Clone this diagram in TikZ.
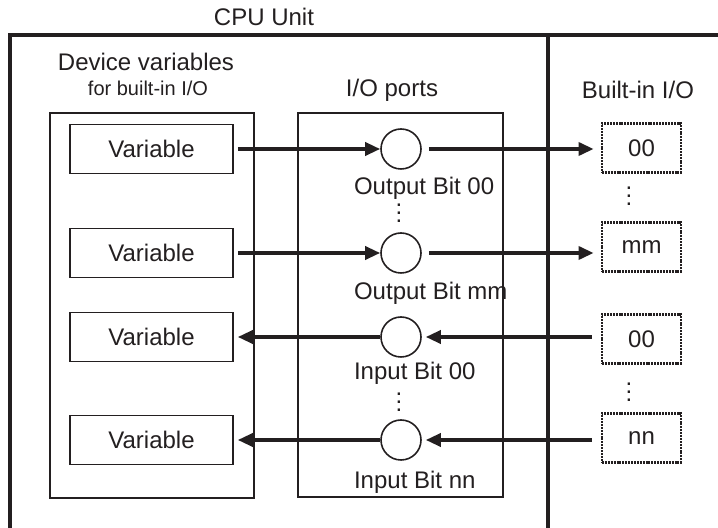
\documentclass[tikz,border=0pt]{standalone}
\usepackage{fontspec}
\setmainfont{Liberation Sans}
\usetikzlibrary{arrows.meta}
\definecolor{ink}{HTML}{231F20}
\begin{document}
\begin{tikzpicture}[x=0.5pt,y=-0.5pt,color=ink,
  every node/.style={font=\fontsize{12}{14}\selectfont},
  var/.style={draw,line width=0.8pt,minimum width=81.5pt,minimum height=24.5pt,inner sep=0pt},
  port/.style={draw,circle,line width=0.8pt,minimum size=20pt,inner sep=0pt},
  pin/.style={draw,line width=1.4pt,dash pattern=on 1pt off 0.45pt,minimum width=39.5pt,minimum height=24.5pt,inner sep=0pt},
  more/.style={inner sep=0pt,anchor=base},
  sig/.style={line width=1.7pt,-{Triangle[length=7.5pt,width=6.5pt]}}]
\useasboundingbox (0,0) rectangle (718,528);
% CPU unit frame
\draw[line width=1.8pt] (10,528) -- (10,35) -- (718,35);
\draw[line width=2pt] (548,35) -- (548,528);
\node (cpu) at (264,17) {CPU Unit};
% groups
\draw[line width=0.8pt] (50,113) rectangle (254,498);
\draw[line width=0.8pt] (298,113) rectangle (503,497);
\node (devhead) at (146,62) {Device variables};
\node[font=\fontsize{10}{12}\selectfont] (devsub) at (148,88) {for built-in I/O};
\node (porthead) at (392,90) {I/O ports};
\node (pinhead) at (638,90) {Built-in I/O};
% rows
\foreach \i/\y in {1/149,2/253,3/337,4/440}{
  \node[var] (v\i) at (151.5,\y) {Variable};
  \node[port] (c\i) at (401,\y) {};
}
\foreach \i/\y/\t in {1/148/00,2/247/mm,3/339/00,4/438/nn}
  \node[pin] (b\i) at (641.5,\y) {\t};
\node[anchor=west] (l1) at (347,188) {Output Bit 00};
\node[anchor=west] (l2) at (347,293) {Output Bit mm};
\node[anchor=west] (l3) at (347,373) {Input Bit 00};
\node[anchor=west] (l4) at (347,482) {Input Bit nn};
\node[more] (d1) at (399,223) {\smash{$\vdots$}};
\node[more] (d2) at (399,412) {\smash{$\vdots$}};
\node[more] (d3) at (629,206) {\smash{$\vdots$}};
\node[more] (d4) at (629,402) {\smash{$\vdots$}};
% signals
\foreach \i in {1,2}{
  \draw[sig,shorten <=2pt] (v\i.east) -- (c\i.west);
  \draw[sig,shorten <=3.5pt,shorten >=3.5pt] (c\i.east) -- (b\i.west |- c\i);
}
\foreach \i in {3,4}{
  \draw[sig,shorten <=4.5pt,shorten >=2pt] (b\i.west |- c\i) -- (c\i.east);
  \draw[sig,shorten >=2pt] (c\i.west) -- (v\i.east);
}
\end{tikzpicture}
\end{document}
